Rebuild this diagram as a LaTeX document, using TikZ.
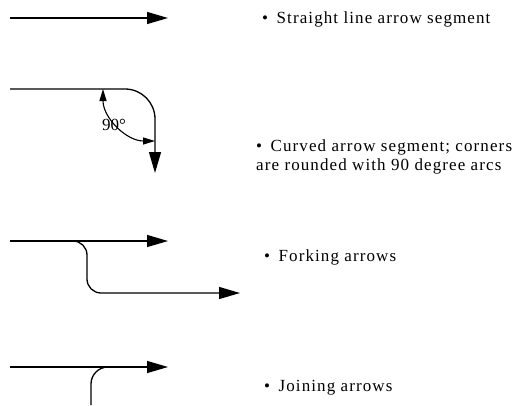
\documentclass[tikz,border=0pt]{standalone}
\usepackage{fontspec}
\setmainfont{Liberation Serif}
\newfontfamily\spacedfont[LetterSpace=6.5]{Liberation Serif}
\usetikzlibrary{arrows.meta}
\begin{document}
\begin{tikzpicture}[x=1pt,y=-1pt,
  seg/.style={line width=1.3pt},
  bigtip/.style={-{Triangle[length=21pt,width=12pt]}},
  angtip/.style={{Triangle[length=12pt,width=7pt]}-{Triangle[length=12pt,width=7pt]}},
  lbl/.style={font=\spacedfont\fontsize{17}{19}\selectfont, anchor=west, inner sep=0pt, align=left}]
\useasboundingbox (0,0) rectangle (517,405);
% row 1
\coordinate (a1) at (10,18);
\coordinate (b1) at (168,18);
\draw[seg,bigtip] (a1) -- (b1);
\node[lbl] (t1) at (262,19) {•\hspace{0.5em}Straight line arrow segment};
% row 2
\coordinate (a2) at (10,89);
\coordinate (c2) at (155,89);
\coordinate (b2) at (155,173);
\draw[seg,bigtip,rounded corners=30pt] (a2) -- (c2) -- (b2);
\coordinate (g1) at (103,89);
\draw[line width=1.1pt,angtip] (g1) arc[start angle=180,end angle=90,radius=52];
\node[font=\fontsize{17}{19}\selectfont,inner sep=0pt] (deg) at (114,125) {90°};
\node[lbl] (t2) at (256,157) {•\hspace{0.5em}Curved arrow segment; corners\\are rounded with 90 degree arcs};
% row 3
\coordinate (a3) at (10,241);
\coordinate (b3) at (168,241);
\draw[seg,bigtip] (a3) -- (b3);
\coordinate (f0) at (72,241);
\coordinate (f1) at (87,241);
\coordinate (f2) at (87,293);
\coordinate (f3) at (240,293);
\draw[seg,bigtip,rounded corners=14pt] (f0) -- (f1) -- (f2) -- (f3);
\node[lbl] (t3) at (264,257) {•\hspace{0.5em}Forking arrows};
% row 4
\coordinate (a4) at (10,367);
\coordinate (b4) at (168,367);
\draw[seg,bigtip] (a4) -- (b4);
\coordinate (j0) at (91,405);
\coordinate (j1) at (91,367);
\coordinate (j2) at (110,367);
\draw[seg,rounded corners=17pt] (j0) -- (j1) -- (j2);
\node[lbl] (t4) at (264,388) {•\hspace{0.5em}Joining arrows};
\end{tikzpicture}
\end{document}
